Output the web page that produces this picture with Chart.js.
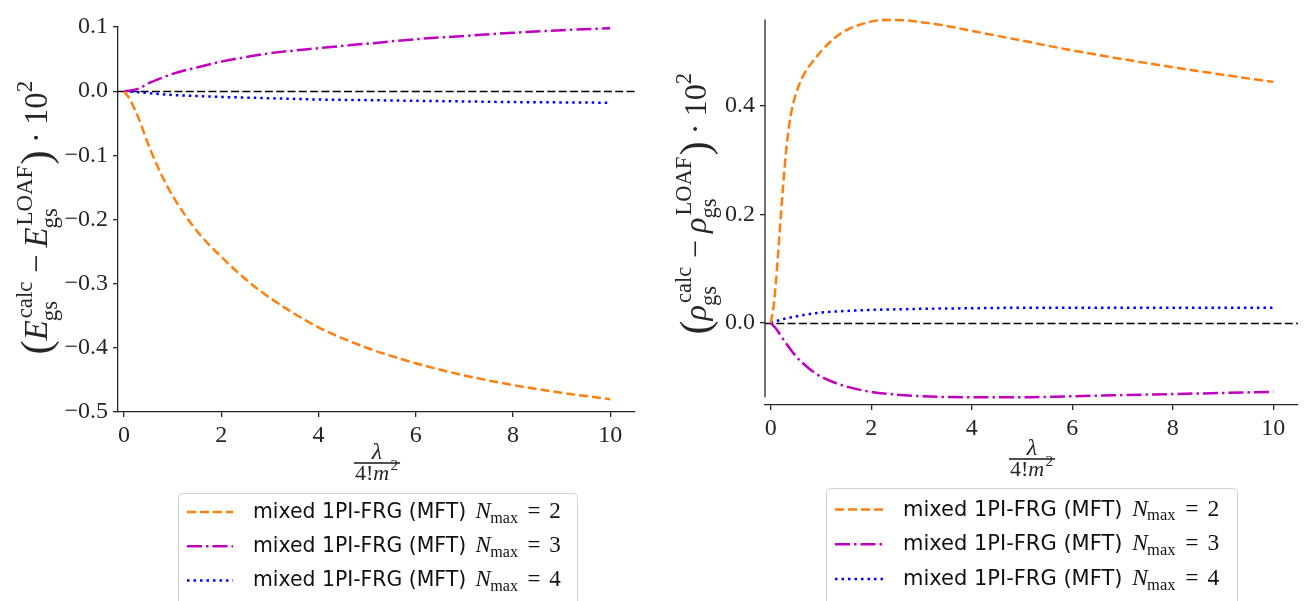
<!DOCTYPE html>
<html>
<head>
<meta charset="utf-8">
<script src="https://cdn.jsdelivr.net/npm/chart.js"></script>
<style>
html, body { margin: 0; padding: 0; background: #fff; }
#wrap { position: relative; width: 1311px; height: 601px; overflow: hidden; }
#energy-chart { position: absolute; left: 0; top: 0; }
#density-chart { position: absolute; left: 655px; top: 0; }
</style>
</head>
<body>
<div id="wrap">
  <canvas id="energy-chart" width="655" height="601"></canvas>
  <canvas id="density-chart" width="656" height="601"></canvas>
</div>
<script>
// legend / series info
const seriesNames = ['mixed 1PI-FRG (MFT)', 'mixed 1PI-FRG (MFT)', 'mixed 1PI-FRG (MFT)'];
const nMaxValues = ['2', '3', '4'];

// ticks
const xTickValues = [0, 2, 4, 6, 8, 10];
const xTickLabels = ['0', '2', '4', '6', '8', '10'];
const energyTickValues = [-0.5, -0.4, -0.3, -0.2, -0.1, 0, 0.1];
const energyTickLabels = ['\u22120.5', '\u22120.4', '\u22120.3', '\u22120.2', '\u22120.1', '0.0', '0.1'];
const densityTickValues = [0, 0.2, 0.4];
const densityTickLabels = ['0.0', '0.2', '0.4'];
const zeroLevel = 0;

// left panel: ground state energy difference (x 10^2)
const lambdaEnergy = [0, 0.1, 0.2, 0.3, 0.5, 0.75, 1, 1.5, 2, 2.5, 3, 4, 5, 6, 7, 8, 9, 10];
const energyN2 = [0, -0.010, -0.025, -0.042, -0.083, -0.127, -0.163, -0.218, -0.258, -0.293, -0.322, -0.368, -0.400, -0.424, -0.443, -0.458, -0.470, -0.480];
const energyN3 = [0, 0.0005, 0.002, 0.004, 0.012, 0.020, 0.027, 0.037, 0.046, 0.053, 0.059, 0.067, 0.074, 0.081, 0.086, 0.091, 0.095, 0.098];
const energyN4 = [0, -0.0005, -0.001, -0.0015, -0.003, -0.0045, -0.006, -0.0075, -0.009, -0.010, -0.011, -0.013, -0.014, -0.015, -0.016, -0.017, -0.0175, -0.018];

// right panel: ground state density difference (x 10^2)
const lambdaDensityN2 = [0, 0.05, 0.1, 0.15, 0.2, 0.25, 0.3, 0.35, 0.4, 0.45, 0.5, 0.55, 0.6, 0.65, 0.75, 0.85, 1, 1.25, 1.5, 2, 2.25, 2.5, 3, 3.5, 4, 5, 6, 7, 8, 9, 10];
const densityN2 = [0, 0.025, 0.07, 0.13, 0.195, 0.255, 0.31, 0.352, 0.383, 0.405, 0.421, 0.435, 0.446, 0.456, 0.471, 0.483, 0.500, 0.523, 0.539, 0.555, 0.558, 0.558, 0.554, 0.547, 0.538, 0.520, 0.502, 0.486, 0.471, 0.457, 0.444];
const lambdaDensity = [0, 0.1, 0.25, 0.5, 0.75, 1, 1.5, 2, 2.5, 3, 4, 5, 6, 7, 8, 9, 10];
const densityN3 = [0, -0.010, -0.030, -0.061, -0.083, -0.099, -0.117, -0.127, -0.132, -0.135, -0.137, -0.137, -0.135, -0.133, -0.131, -0.129, -0.127];
const densityN4 = [0, 0.003, 0.007, 0.012, 0.016, 0.019, 0.022, 0.024, 0.025, 0.026, 0.027, 0.028, 0.028, 0.028, 0.028, 0.028, 0.028];

// styles
const seriesColors = ['#ff7f0e', '#bf00bf', '#0000ff'];
const seriesDashes = [[9, 4], [15, 4, 2.5, 4], [2.5, 4]];
const SERIF = '"Liberation Serif", "DejaVu Serif", serif';
const SANS = '"DejaVu Sans", "Liberation Sans", sans-serif';
const INK = '#262626';

function serif(size, italic) {
    return (italic ? 'italic ' : '') + size + 'px ' + SERIF;
}

// tiny TeX-like run: base glyphs with optional sup/sub
function mathRun(ctx, pieces, size, x, y, draw, opGap) {
    let cx = x;
    const small = size * 0.7;
    const og = opGap || 0.22;
    for (const p of pieces) {
        const gap = p.op ? size * og : 0;
        cx += gap;
        ctx.font = serif(p.paren ? size * 1.3 : size, p.it);
        if (draw) ctx.fillText(p.t, cx, y + (p.paren ? size * 0.1 : 0));
        cx += ctx.measureText(p.t).width + gap;
        let extra = 0;
        ctx.font = serif(small, false);
        if (p.sup) {
            const off = p.it ? size * 0.06 : 0;
            if (draw) ctx.fillText(p.sup, cx + off, y - size * 0.45);
            extra = Math.max(extra, ctx.measureText(p.sup).width + off);
        }
        if (p.sub) {
            const off = p.it ? -size * 0.03 : 0;
            if (draw) ctx.fillText(p.sub, cx + off, y + size * (p.sup ? 0.3 : 0.2));
            extra = Math.max(extra, ctx.measureText(p.sub).width + off);
        }
        if (extra) cx += extra + size * 0.04;
    }
    return cx - x;
}

function makeDatasets(lambdas, values) {
    return values.map((vals, i) => ({
        label: seriesNames[i] + ' N_max = ' + nMaxValues[i],
        data: lambdas[i].map((x, j) => ({ x: x, y: vals[j] })),
        borderColor: seriesColors[i],
        borderWidth: 2.5,
        borderDash: seriesDashes[i],
        pointRadius: 0,
        fill: false,
        cubicInterpolationMode: 'monotone',
        clip: 10
    }));
}

function makeScales(cfg) {
    return {
        x: {
            type: 'linear',
            min: cfg.xMin,
            max: cfg.xMax,
            afterBuildTicks: s => { s.ticks = xTickValues.map(v => ({ value: v })); },
            afterFit: s => { s.height = cfg.xHeight; },
            ticks: {
                autoSkip: false, maxRotation: 0, padding: 4, color: INK,
                font: { family: SERIF, size: 24 },
                callback: v => xTickLabels[xTickValues.indexOf(v)]
            },
            grid: { drawOnChartArea: false, drawTicks: true, tickLength: 5, color: INK, lineWidth: 1.3 },
            border: { display: true, color: INK, width: 1.3 }
        },
        y: {
            type: 'linear',
            min: cfg.yMin,
            max: cfg.yMax,
            afterBuildTicks: s => { s.ticks = cfg.yTicks.map(v => ({ value: v })); },
            afterFit: s => { s.width = cfg.yWidth; },
            ticks: {
                autoSkip: false, padding: 5, color: INK,
                font: { family: SERIF, size: 24 },
                callback: v => cfg.yLabels[cfg.yTicks.indexOf(v)]
            },
            grid: { drawOnChartArea: false, drawTicks: true, tickLength: 5, color: INK, lineWidth: 1.3 },
            border: { display: cfg.yBorder, color: INK, width: 1.3 }
        }
    };
}

// zero line, axis labels, legend
const decorPlugin = {
    id: 'decor',
    beforeDatasetsDraw(chart, args, opts) {
        const { ctx, chartArea: a, scales } = chart;
        const py = Math.round(scales.y.getPixelForValue(zeroLevel)) + 0.5;
        ctx.save();
        ctx.strokeStyle = '#000';
        ctx.lineWidth = 1.3;
        ctx.setLineDash([8, 3.3]);
        ctx.beginPath();
        ctx.moveTo(a.left, py);
        ctx.lineTo(a.right, py);
        ctx.stroke();
        ctx.restore();
        if (opts.spine) {
            ctx.save();
            ctx.strokeStyle = INK;
            ctx.lineWidth = 1.3;
            ctx.beginPath();
            ctx.moveTo(a.left, scales.y.getPixelForValue(opts.spine[0]));
            ctx.lineTo(a.left, scales.y.getPixelForValue(opts.spine[1]));
            ctx.stroke();
            ctx.restore();
        }
    },
    afterDraw(chart, args, opts) {
        const ctx = chart.ctx;
        ctx.save();
        ctx.fillStyle = INK;
        ctx.textAlign = 'left';
        ctx.textBaseline = 'alphabetic';

        // y label, rotated
        const w0 = mathRun(ctx, opts.yLabel, 30, 0, 0, false);
        const size = 30 * opts.yLabelLength / w0;
        const w = mathRun(ctx, opts.yLabel, size, 0, 0, false);
        ctx.save();
        ctx.translate(opts.yLabelX, opts.yLabelY);
        ctx.rotate(-Math.PI / 2);
        mathRun(ctx, opts.yLabel, size, -w / 2, 0, true);
        ctx.restore();

        // x label: lambda / 4! m^2
        const fs = 22;
        const cx = opts.fracX, by = opts.fracBarY;
        ctx.font = serif(fs + 2, true);
        const nw = ctx.measureText('\u03BB').width;
        ctx.fillText('\u03BB', cx - nw / 2, by - 4);
        const den = [{ t: '4!' }, { t: 'm', it: true, sup: '2' }];
        const dw = mathRun(ctx, den, fs, 0, 0, false);
        mathRun(ctx, den, fs, cx - dw / 2, by + 17, true);
        ctx.fillRect(cx - dw / 2 - 1, by - 0.8, dw + 2, 1.6);

        // legend
        const lg = opts.legend;
        ctx.beginPath();
        ctx.roundRect(lg.x + 0.5, lg.y + 0.5, lg.w, lg.h, 4);
        ctx.fillStyle = 'rgba(255,255,255,0.8)';
        ctx.fill();
        ctx.strokeStyle = '#d0d0d0';
        ctx.lineWidth = 1;
        ctx.stroke();
        chart.data.datasets.forEach((ds, i) => {
            const ly = lg.rowY + i * lg.rowGap;
            ctx.save();
            ctx.strokeStyle = ds.borderColor;
            ctx.lineWidth = ds.borderWidth;
            ctx.setLineDash(ds.borderDash);
            ctx.beginPath();
            ctx.moveTo(lg.lineX0, ly);
            ctx.lineTo(lg.lineX1, ly);
            ctx.stroke();
            ctx.restore();
            ctx.fillStyle = '#111';
            ctx.font = lg.textSize + 'px ' + SANS;
            ctx.fillText(seriesNames[i], lg.textX, ly + 6);
            const tw = ctx.measureText(seriesNames[i] + ' ').width;
            const m = [{ t: 'N', it: true, sub: 'max' }, { t: '=', op: true }, { t: nMaxValues[i] }];
            mathRun(ctx, m, lg.mathSize, lg.textX + tw + 3, ly + 6, true, 0.38);
        });
        ctx.restore();
    }
};

function makeChart(id, datasets, scaleCfg, padding, decor) {
    return new Chart(document.getElementById(id), {
        type: 'line',
        data: { datasets: datasets },
        options: {
            responsive: false,
            animation: false,
            layout: { padding: padding },
            plugins: { legend: { display: false }, tooltip: { enabled: false }, decor: decor },
            scales: makeScales(scaleCfg)
        },
        plugins: [decorPlugin]
    });
}

function initializeCharts() {
    makeChart('energy-chart',
        makeDatasets([lambdaEnergy, lambdaEnergy, lambdaEnergy], [energyN2, energyN3, energyN4]),
        { xMin: -0.123, xMax: 10.51, yMin: -0.5, yMax: 0.1, yTicks: energyTickValues, yLabels: energyTickLabels,
          yBorder: true, xHeight: 189, yWidth: 118 },
        { left: 0, right: 20, top: 27, bottom: 0 },
        {
            yLabel: [
                { t: '(', paren: true },
                { t: 'E', it: true, sup: 'calc', sub: 'gs' },
                { t: '\u2212', op: true },
                { t: 'E', it: true, sup: 'LOAF', sub: 'gs' },
                { t: ')', paren: true },
                { t: '\u00B7', op: true },
                { t: '10', sup: '2' }
            ],
            yLabelX: 47, yLabelY: 217, yLabelLength: 275,
            fracX: 377, fracBarY: 463,
            legend: { x: 178, y: 493, w: 399, h: 120, rowY: 512, rowGap: 34.2,
                      lineX0: 187, lineX1: 233, textX: 253, textSize: 20.4, mathSize: 23 }
        });

    makeChart('density-chart',
        makeDatasets([lambdaDensityN2, lambdaDensity, lambdaDensity], [densityN2, densityN3, densityN4]),
        { xMin: -0.113, xMax: 10.49, yMin: -0.1512, yMax: 0.5591, yTicks: densityTickValues, yLabels: densityTickLabels,
          yBorder: false, xHeight: 196, yWidth: 110 },
        { left: 0, right: 13, top: 9, bottom: 0 },
        {
            spine: [-0.1369, 0.5591],
            yLabel: [
                { t: '(', paren: true },
                { t: '\u03C1', it: true, sup: 'calc', sub: 'gs' },
                { t: '\u2212', op: true },
                { t: '\u03C1', it: true, sup: 'LOAF', sub: 'gs' },
                { t: ')', paren: true },
                { t: '\u00B7', op: true },
                { t: '10', sup: '2' }
            ],
            yLabelX: 51, yLabelY: 203, yLabelLength: 263,
            fracX: 377, fracBarY: 459,
            legend: { x: 171, y: 488, w: 411, h: 125, rowY: 509.5, rowGap: 34.8,
                      lineX0: 180, lineX1: 228, textX: 248, textSize: 21, mathSize: 23.5 }
        });
}

document.addEventListener('DOMContentLoaded', initializeCharts);
</script>
</body>
</html>
